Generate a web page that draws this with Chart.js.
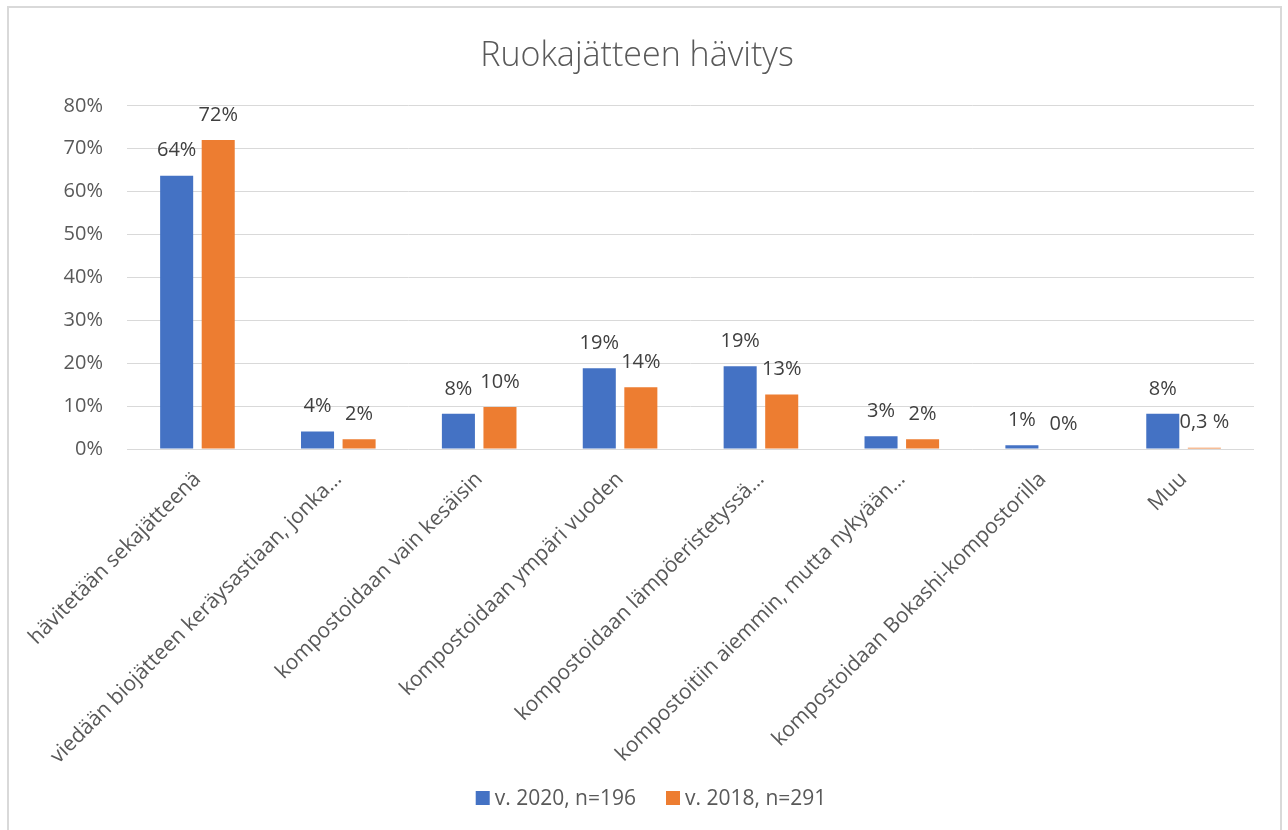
<!DOCTYPE html>
<html>
<head>
<meta charset="utf-8">
<script src="https://cdn.jsdelivr.net/npm/chart.js@4"></script>
<style>
  html, body { margin: 0; padding: 0; background: #ffffff; }
  body { width: 1288px; height: 830px; position: relative; overflow: hidden; }
  #frame { position: absolute; left: 7px; top: 6px; width: 1275px; height: 840px; border: 2px solid #d9d9d9; box-sizing: border-box; }
  #wrap { position: absolute; left: 0; top: 0; width: 1288px; height: 830px; }
</style>
</head>
<body>
<div id="frame"></div>
<div id="wrap"><canvas id="c" width="1288" height="830"></canvas></div>
<script>
const categories = [
  "hävitetään sekajätteenä",
  "viedään biojätteen keräysastiaan, jonka…",
  "kompostoidaan vain kesäisin",
  "kompostoidaan ympäri vuoden",
  "kompostoidaan lämpöeristetyssä…",
  "kompostoitiin aiemmin, mutta nykyään…",
  "kompostoidaan Bokashi-kompostorilla",
  "Muu"
];
const series2020 = [63.7, 4.1, 8.2, 18.8, 19.3, 3.0, 0.9, 8.2];
const series2018 = [72.0, 2.3, 9.8, 14.4, 12.7, 2.3, 0.0, 0.3];
const labels2020 = ["64%", "4%", "8%", "19%", "19%", "3%", "1%", "8%"];
const labels2018 = ["72%", "2%", "10%", "14%", "13%", "2%", "0%", "0,3 %"];
const seriesNames = ["v. 2020, n=196", "v. 2018, n=291"];
const yTicks = [0, 10, 20, 30, 40, 50, 60, 70, 80];

const FONT = "'Open Sans', 'Noto Sans', sans-serif";

const valueLabelPlugin = {
  id: 'valueLabels',
  afterDatasetsDraw(chart) {
    const ctx = chart.ctx;
    const texts = [labels2020, labels2018];
    ctx.save();
    ctx.font = "20px " + FONT;
    ctx.fillStyle = "#404040";
    ctx.textAlign = "center";
    ctx.textBaseline = "middle";
    chart.data.datasets.forEach((ds, di) => {
      const meta = chart.getDatasetMeta(di);
      meta.data.forEach((bar, i) => {
        ctx.fillText(texts[di][i], bar.x, bar.y - 25);
      });
    });
    ctx.restore();
  }
};

// Excel-style legend: small square, short gap, wide gap between items
const bottomLegendPlugin = {
  id: 'bottomLegend',
  afterDraw(chart) {
    const ctx = chart.ctx;
    const box = 14, gapText = 5, gapItem = 30, centerX = 651, centerY = 798;
    ctx.save();
    ctx.font = "21px " + FONT;
    ctx.textBaseline = "middle";
    ctx.textAlign = "left";
    const items = chart.data.datasets.map(ds => ({ text: ds.label, color: ds.backgroundColor, w: ctx.measureText(ds.label).width }));
    let total = 0;
    items.forEach((it, i) => { total += box + gapText + it.w + (i < items.length - 1 ? gapItem : 0); });
    let x = centerX - total / 2;
    items.forEach(it => {
      ctx.fillStyle = it.color;
      ctx.fillRect(x, centerY - box / 2, box, box);
      ctx.fillStyle = '#595959';
      ctx.fillText(it.text, x + box + gapText, centerY + 1);
      x += box + gapText + it.w + gapItem;
    });
    ctx.restore();
  }
};

new Chart(document.getElementById('c'), {
  type: 'bar',
  data: {
    labels: categories,
    datasets: [
      { label: seriesNames[0], data: series2020, backgroundColor: '#4472C4', categoryPercentage: 0.59, barPercentage: 0.795 },
      { label: seriesNames[1], data: series2018, backgroundColor: '#ED7D31', categoryPercentage: 0.59, barPercentage: 0.795 }
    ]
  },
  options: {
    responsive: false,
    animation: false,
    devicePixelRatio: 1,
    layout: { padding: { left: 20, right: 34, top: 19, bottom: 0 } },
    plugins: {
      title: {
        display: true,
        text: 'Ruokajätteen hävitys',
        color: '#595959',
        font: { family: FONT, size: 34, weight: '300' },
        padding: { top: 17, bottom: 29 }
      },
      legend: { display: false },
      tooltip: { enabled: false }
    },
    scales: {
      x: {
        grid: { display: false },
        border: { display: false },
        ticks: {
          color: '#595959',
          font: { family: FONT, size: 21 },
          maxRotation: 45,
          minRotation: 45,
          autoSkip: false,
          padding: 10
        },
        afterFit(scale) { scale.height = 381; }
      },
      y: {
        min: 0,
        max: 80,
        afterBuildTicks(scale) { scale.ticks = yTicks.map(v => ({ value: v })); },
        grid: { color: '#d9d9d9', lineWidth: 1, drawTicks: false },
        border: { display: false },
        ticks: {
          color: '#595959',
          font: { family: FONT, size: 20 },
          padding: 24,
          callback: (v) => v + '%'
        },
        afterFit(scale) { scale.width = 107; }
      }
    }
  },
  plugins: [valueLabelPlugin, bottomLegendPlugin]
});
</script>
</body>
</html>
